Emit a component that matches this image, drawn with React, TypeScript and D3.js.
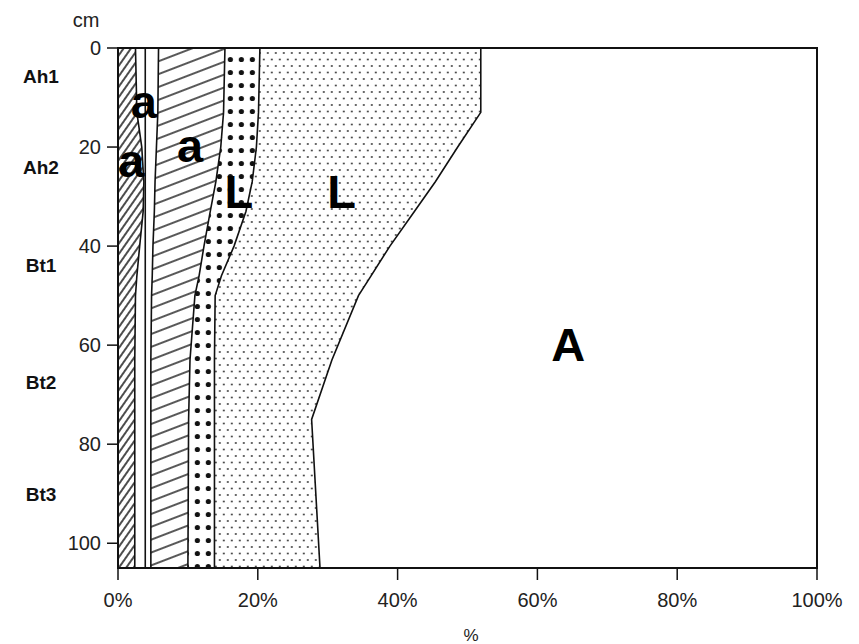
import React from "react";
import * as d3 from "d3";

// depth points (cm) where the layer widths were read
const depths = [0, 13, 20, 27, 33, 40, 46, 50, 63, 75, 105];

// layer widths in % at each depth, from left to right
const clayFine = [2.5, 2.7, 3.4, 3.7, 3.6, 3.1, 2.7, 2.5, 2.4, 2.4, 2.4];
const clayMid = [1.4, 1.2, 0.5, 0.2, 0.3, 0.8, 1.2, 1.4, 1.5, 1.5, 1.5];
const clayCoarse = [1.9, 1.8, 1.6, 1.4, 1.3, 1.1, 1.0, 0.9, 0.8, 0.8, 0.8];
const clayHatch = [9.5, 9.4, 9.2, 8.7, 8.0, 7.3, 6.7, 6.2, 5.6, 5.4, 5.3];
const siltCoarse = [5.0, 5.0, 5.1, 5.2, 5.1, 4.3, 3.2, 2.9, 3.5, 3.7, 3.8];
const siltFine = [31.6, 31.8, 28.8, 26.2, 24.1, 22.3, 21.4, 20.5, 16.8, 13.9, 15.1];
const rest = [48.1, 48.1, 51.4, 54.6, 57.6, 61.1, 63.8, 65.6, 69.4, 72.3, 71.1];

const layerKeys = ["clayFine", "clayMid", "clayCoarse", "clayHatch", "siltCoarse", "siltFine", "rest"];
const layerFills = ["url(#hatchFine)", "#fff", "#fff", "url(#hatchWide)", "url(#bigDots)", "url(#fineDots)", "#fff"];

const yTicks = [0, 20, 40, 60, 80, 100];
const xTicks = [0, 20, 40, 60, 80, 100];

const horizons = ["Ah1", "Ah2", "Bt1", "Bt2", "Bt3"];
const horizonDepths = [5.8, 24.2, 43.8, 67.6, 90.2];

// overlay letters: text, x (%), baseline depth (cm)
const letters = ["a", "a", "a", "L", "L", "A"];
const letterX = [3.7, 1.9, 10.3, 17.3, 32.0, 64.4];
const letterDepth = [14.1, 26.0, 23.0, 32.3, 32.3, 63.3];

const W = 859;
const H = 644;
const FONT = "'Liberation Sans', Arial, sans-serif";

export default function App() {
  const x = d3.scaleLinear().domain([0, 100]).range([118, 817]);
  const y = d3.scaleLinear().domain([0, 105]).range([48, 568]);

  const rows = depths.map((d, i) => ({
    depth: d,
    clayFine: clayFine[i],
    clayMid: clayMid[i],
    clayCoarse: clayCoarse[i],
    clayHatch: clayHatch[i],
    siltCoarse: siltCoarse[i],
    siltFine: siltFine[i],
    rest: rest[i],
  }));
  const series = d3.stack<any>().keys(layerKeys)(rows);

  const area = d3
    .area<any>()
    .y((d) => y(d.data.depth))
    .x0((d) => x(d[0]))
    .x1((d) => x(Math.min(100, d[1])));

  const boundary = d3
    .line<any>()
    .y((d) => y(d.data.depth))
    .x((d) => x(Math.min(100, d[1])));

  const [x0, x1] = x.range();
  const [y0, y1] = y.range();

  return (
    <svg
      width={W}
      height={H}
      style={{ position: "absolute", left: 0, top: 0, background: "#fff" }}
      fontFamily={FONT}
    >
      <defs>
        <pattern id="hatchFine" width={6} height={6} patternUnits="userSpaceOnUse" patternTransform="rotate(35)">
          <line x1={3} y1={0} x2={3} y2={6} stroke="#111" strokeWidth={1.5} />
        </pattern>
        <pattern id="hatchWide" width={12} height={12} patternUnits="userSpaceOnUse" patternTransform="rotate(-21)">
          <line x1={0} y1={6} x2={12} y2={6} stroke="#111" strokeWidth={1.4} />
        </pattern>
        <pattern id="bigDots" width={11} height={13} patternUnits="userSpaceOnUse" x={x(15) + 2} y={y0 + 5}>
          <rect width={11} height={13} fill="#fff" />
          <circle cx={5.5} cy={6.5} r={2.6} fill="#111" />
        </pattern>
        <pattern id="fineDots" width={8} height={13} patternUnits="userSpaceOnUse" x={x(20)} y={y0 + 2}>
          <rect width={8} height={13} fill="#fff" />
          <circle cx={2} cy={3} r={1.05} fill="#444" />
          <circle cx={6} cy={9.5} r={1.05} fill="#444" />
        </pattern>
        <clipPath id="plot">
          <rect x={x0} y={y0} width={x1 - x0} height={y1 - y0} />
        </clipPath>
      </defs>

      <g clipPath="url(#plot)">
        {series.map((s, i) => (
          <path key={s.key} d={area(s) || ""} fill={layerFills[i]} />
        ))}
        {series.slice(0, -1).map((s) => (
          <path key={"b" + s.key} d={boundary(s) || ""} fill="none" stroke="#111" strokeWidth={1.6} />
        ))}
      </g>

      {/* frame */}
      <rect x={x0} y={y0} width={x1 - x0} height={y1 - y0} fill="none" stroke="#111" strokeWidth={2} />

      {/* y axis */}
      {yTicks.map((t) => (
        <g key={"y" + t}>
          <line x1={x0 - 11} x2={x0} y1={y(t)} y2={y(t)} stroke="#111" strokeWidth={1.5} />
          <text x={x0 - 17} y={y(t)} dy="0.35em" textAnchor="end" fontSize={20} fill="#222">
            {t}
          </text>
        </g>
      ))}
      <text x={86} y={20} dy="0.35em" textAnchor="middle" fontSize={20} fill="#222">
        cm
      </text>

      {horizons.map((h, i) => (
        <text key={h} x={41} y={y(horizonDepths[i])} dy="0.35em" textAnchor="middle" fontSize={19} fontWeight="bold" fill="#111">
          {h}
        </text>
      ))}

      {/* x axis */}
      {xTicks.map((t) => (
        <g key={"x" + t}>
          <line x1={x(t)} x2={x(t)} y1={y1} y2={y1 + 12} stroke="#111" strokeWidth={1.5} />
          <text x={x(t)} y={y1 + 39} textAnchor="middle" fontSize={20} fill="#222">
            {t}%
          </text>
        </g>
      ))}
      <text x={471} y={641} textAnchor="middle" fontSize={17} fill="#222">
        %
      </text>

      {letters.map((l, i) => (
        <text
          key={"l" + i}
          x={x(letterX[i])}
          y={y(letterDepth[i])}
          textAnchor="middle"
          fontSize={47}
          fontWeight="bold"
          fill="#000"
        >
          {l}
        </text>
      ))}
    </svg>
  );
}
